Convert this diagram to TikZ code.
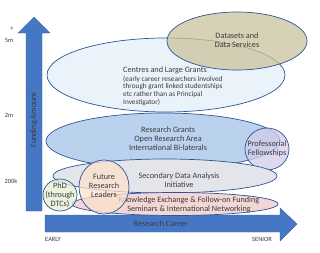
\documentclass[tikz,border=0pt]{standalone}
\usepackage{fontspec}
\setmainfont{Carlito}
\usetikzlibrary{positioning}

\definecolor{arrowblue}{HTML}{4677C4}
\definecolor{edgeblue}{HTML}{2F5597}
\definecolor{txtgrey}{HTML}{3B3B3B}
\definecolor{centresfill}{HTML}{EAF3F9}
\definecolor{datafill}{HTML}{C9C29D}
\definecolor{grantsfill}{HTML}{BBD2EE}
\definecolor{proffill}{HTML}{D3CCEA}
\definecolor{secfill}{HTML}{E4E5EB}
\definecolor{kefill}{HTML}{F3D7D7}
\definecolor{futurefill}{HTML}{FBE1CB}
\definecolor{phdfill}{HTML}{E4EFD4}

\tikzset{
  blob/.style={draw=edgeblue, line width=0.6pt},
  seethrough/.style={blob, fill opacity=0.75},
  bodytext/.style={text=txtgrey, font=\fontsize{7}{7.8}\selectfont, align=center, inner sep=0pt},
  smalltext/.style={text=txtgrey, font=\fontsize{6.2}{6.6}\selectfont, align=left, inner sep=0pt},
  axistext/.style={text=txtgrey, font=\fontsize{5.5}{6}\selectfont, inner sep=0pt},
  bigarrow/.style={fill=arrowblue, draw=arrowblue!80!black, line width=0.3pt}
}

\begin{document}
\begin{tikzpicture}[x=0.03cm, y=-0.03cm]
    \useasboundingbox (0,0) rectangle (320,252);
    % ---- Axes ----
    \draw[bigarrow] (26,211) -- (26,33) -- (18,33) -- (34,17) -- (50,33) -- (42,33) -- (42,211) -- cycle;
    \draw[bigarrow] (45,215) -- (280,215) -- (280,208) -- (297,224) -- (280,241) -- (280,232) -- (45,232) -- cycle;
    \node[bodytext, rotate=90] (funding) at (34,120) {Funding Amount};
    \node[bodytext] (career) at (161,224) {Research Career};
    \node[axistext] (plus) at (12,29) {+};
    \node[axistext] (fivem) at (9,40) {5m};
    \node[axistext] (twom) at (9,115) {2m};
    \node[axistext] (twohundredk) at (11,181) {200k};
    \node[axistext] (early) at (53,239) {EARLY};
    \node[axistext] (senior) at (262,239) {SENIOR};
    % ---- Top: centres and datasets ----
    \filldraw[blob, fill=centresfill] (166,75) ellipse (119 and 37);
    \filldraw[seethrough, fill=datafill] (237,41) ellipse (70 and 29);
    \node[bodytext] (datasets) at (237,40) {Datasets and\\Data Services};
    \node[bodytext, anchor=west] (centres) at (123,70) {Centres and Large Grants};
    \node[smalltext, below=1.5pt of centres.south west, anchor=north west] (centresnote)
      {(early career researchers involved\\through grant linked studentships\\etc rather than as Principal\\Investigator)};
    % ---- Middle: grants ----
    \filldraw[blob, fill=grantsfill] (163,141) ellipse (117 and 28);
    \node[bodytext] (grants) at (168,139) {Research Grants\\Open Research Area\\International Bi-laterals};
    \filldraw[seethrough, fill=proffill] (267,149) ellipse (22 and 21);
    \node[bodytext] (prof) at (267,149) {Professorial\\Fellowships};
    % ---- Bottom: smaller schemes ----
    \filldraw[blob, fill=secfill] (165,176) ellipse (112 and 17);
    \node[bodytext] (secondary) at (179,180) {Secondary Data Analysis\\Initiative};
    \filldraw[blob, fill=kefill] (175,204) ellipse (103 and 11.5);
    \node[bodytext] (knowledge) at (189,205) {Knowledge Exchange \& Follow-on Funding\\Seminars \& International Networking};
    \filldraw[seethrough, fill=futurefill] (104,187) ellipse (25 and 27);
    \node[bodytext] (future) at (104,186) {Future\\Research\\Leaders};
    \filldraw[seethrough, fill=phdfill] (60,195) ellipse (17 and 16);
    \node[bodytext] (phd) at (60,195) {PhD\\(through\\DTCs)};
\end{tikzpicture}
\end{document}
